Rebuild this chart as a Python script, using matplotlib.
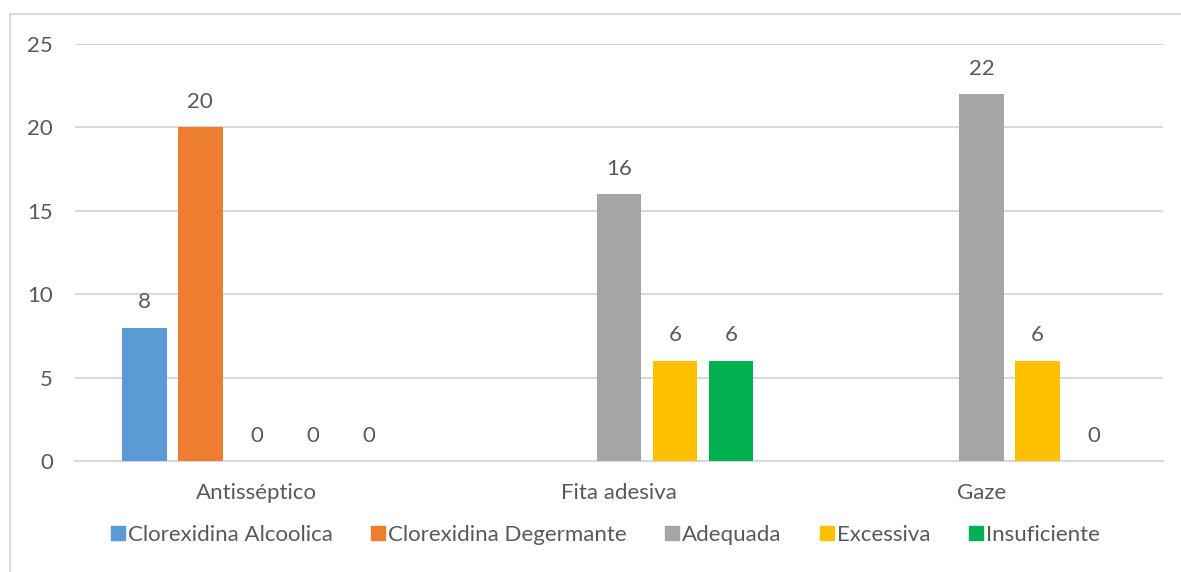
import numpy as np
import matplotlib.pyplot as plt
from matplotlib.lines import Line2D

# Categories and series (NaN = no value recorded for that group)
categories = ["Antisséptico", "Fita adesiva", "Gaze"]
series_names = ["Clorexidina Alcoolica", "Clorexidina Degermante", "Adequada", "Excessiva", "Insuficiente"]
clx_alcoolica = [8, np.nan, np.nan]
clx_degermante = [20, np.nan, np.nan]
adequada = [0, 16, 22]
excessiva = [0, 6, 6]
insuficiente = [0, 6, 0]
yticks = [0, 5, 10, 15, 20, 25]

colors = ["#5B9BD5", "#ED7D31", "#A5A5A5", "#FFC000", "#00B050"]
text_color = "#595959"
grid_color = "#D9D9D9"

plt.rcParams['font.family'] = ['Lato', 'DejaVu Sans']

fig = plt.figure(figsize=(11.81, 5.72), dpi=100)
ax = fig.add_axes([75 / 1181, 111 / 572, 1088 / 1181, 417 / 572])

all_series = [clx_alcoolica, clx_degermante, adequada, excessiva, insuficiente]
x = np.arange(len(categories))
step = 0.1544
width = 0.124

for i, (name, vals) in enumerate(zip(series_names, all_series)):
    offs = (i - 2) * step
    vals = np.array(vals, dtype=float)
    for xi, v in zip(x, vals):
        if np.isnan(v):
            continue
        ax.bar(xi + offs, v, width=width, color=colors[i], zorder=3)
        ax.annotate(f"{int(v)}", (xi + offs, v), xytext=(0, 14), textcoords="offset points",
                    ha="center", va="baseline", fontsize=16, color=text_color)

ax.set_xlim(-0.5, 2.5)
ax.set_ylim(0, 25)
ax.set_yticks(yticks)
ax.set_xticks(x)
ax.set_xticklabels(categories)
ax.tick_params(axis="both", length=0, labelsize=16, labelcolor=text_color)
ax.tick_params(axis="y", pad=16)
ax.tick_params(axis="x", pad=16)
ax.grid(axis="y", color=grid_color, linewidth=1.5, zorder=0)
for s in ["top", "right", "left"]:
    ax.spines[s].set_visible(False)
ax.spines["bottom"].set_color(grid_color)
ax.spines["bottom"].set_linewidth(1.5)

# legend with square markers
handles = [Line2D([], [], marker="s", linestyle="none", markersize=9.5, color=c) for c in colors]
fig.legend(handles, series_names, loc="center", bbox_to_anchor=(604 / 1181, 1 - 535 / 572),
           ncol=5, frameon=False, fontsize=16, labelcolor=text_color,
           handletextpad=0.0, columnspacing=1.6, handlelength=0.9)

# chart area border (top and left edges)
fig.add_artist(Line2D([10 / 1181, 1.0], [1 - 14 / 572, 1 - 14 / 572], transform=fig.transFigure,
                      color=grid_color, linewidth=1.5))
fig.add_artist(Line2D([10 / 1181, 10 / 1181], [0, 1 - 14 / 572], transform=fig.transFigure,
                      color=grid_color, linewidth=1.5))

fig.savefig("out.png", dpi=100)
